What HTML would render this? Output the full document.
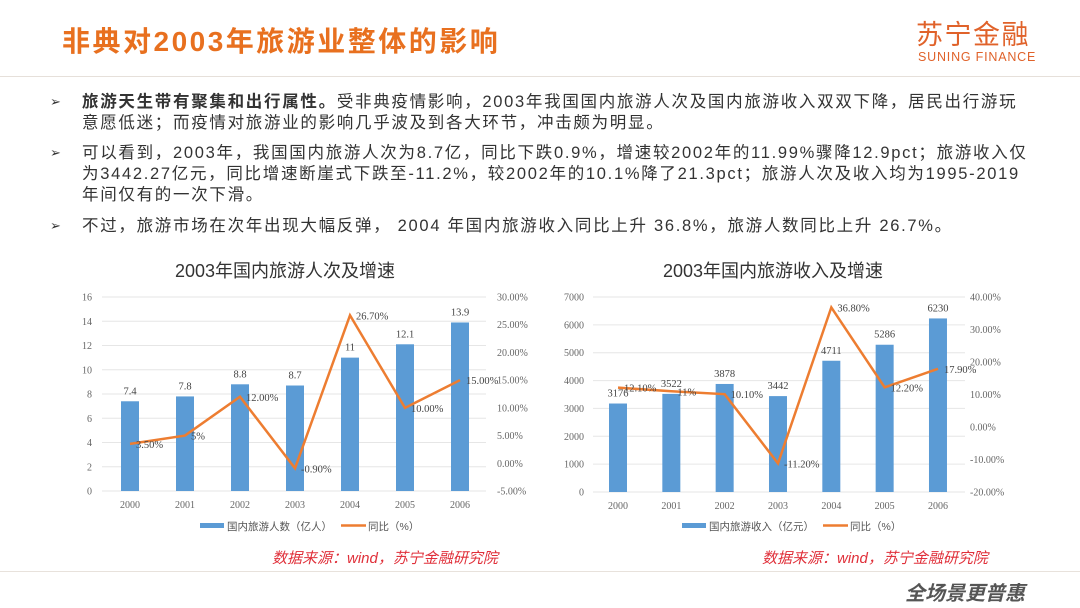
<!DOCTYPE html>
<html><head><meta charset="utf-8">
<style>
body{margin:0;width:1080px;height:608px;background:#fff;overflow:hidden;position:relative;font-family:"Liberation Sans","Noto Sans CJK SC",sans-serif;}
.title{position:absolute;left:62px;top:20px;font-size:28px;font-weight:bold;color:#e8701f;letter-spacing:2.5px;white-space:nowrap}
.hline{position:absolute;left:0;top:76px;width:1080px;height:1px;background:#e6e0da}
.logo1{position:absolute;left:916px;top:20px;font-size:27px;line-height:30px;color:#e0622a;letter-spacing:1.5px}
.logo2{position:absolute;left:918px;top:50px;font-size:12.5px;color:#e0622a;letter-spacing:0.8px}
.b{position:absolute;left:82px;font-size:16.5px;letter-spacing:1.7px;color:#333;white-space:nowrap;line-height:21px}
.ar{position:absolute;left:50px;font-size:13px;color:#333}
.src{position:absolute;top:547px;font-size:15px;color:#e0303a;font-style:italic}
.fline{position:absolute;left:0;top:571px;width:1080px;height:1px;background:#e8e2dc}
.foot{position:absolute;left:905px;top:577px;font-size:20px;font-weight:bold;font-style:italic;color:#555}
svg{position:absolute;left:0;top:0}
</style></head><body>
<div class="title">非典对2003年旅游业整体的影响</div>
<div class="hline"></div>
<div class="logo1">苏宁金融</div>
<div class="logo2">SUNING FINANCE</div>
<div class="ar" style="top:94px">➢</div>
<div class="b" style="top:92px"><b>旅游天生带有聚集和出行属性。</b>受非典疫情影响，2003年我国国内旅游人次及国内旅游收入双双下降，居民出行游玩<br>意愿低迷；而疫情对旅游业的影响几乎波及到各大环节，冲击颇为明显。</div>
<div class="ar" style="top:145px">➢</div>
<div class="b" style="top:143px">可以看到，2003年，我国国内旅游人次为8.7亿，同比下跌0.9%，增速较2002年的11.99%骤降12.9pct；旅游收入仅<br>为3442.27亿元，同比增速断崖式下跌至-11.2%，较2002年的10.1%降了21.3pct；旅游人次及收入均为1995-2019<br>年间仅有的一次下滑。</div>
<div class="ar" style="top:218px">➢</div>
<div class="b" style="top:216px">不过，旅游市场在次年出现大幅反弹， 2004 年国内旅游收入同比上升 36.8%，旅游人数同比上升 26.7%。</div>
<svg id="s" width="1080" height="608" font-family="Liberation Serif, Noto Serif CJK SC, serif"></svg>
<div class="src" style="left:272px">数据来源：wind，苏宁金融研究院</div>
<div class="src" style="left:762px">数据来源：wind，苏宁金融研究院</div>
<div class="fline"></div>
<div class="foot">全场景更普惠</div>
<script>
var s='';
function chart(t){
 s+='<text x="'+t.cx+'" y="277" font-size="18" fill="#333" text-anchor="middle" font-family="Liberation Sans, Noto Sans CJK SC, sans-serif">'+t.title+'</text>';
 for(var i=0;i<t.lt.length;i++){var y=t.y0-(t.y0-t.ytop)*i/(t.lt.length-1);
  s+='<line x1="'+t.gx1+'" x2="'+t.gx2+'" y1="'+y+'" y2="'+y+'" stroke="#e6e6e6"/>';
  s+='<text x="'+t.lx+'" y="'+(y+3.5)+'" font-size="10" fill="#666" text-anchor="end">'+t.lt[i]+'</text>';}
 for(var i=0;i<t.rt.length;i++){var y=t.y0-(t.y0-t.ytop)*i/(t.rt.length-1);
  s+='<text x="'+t.rx+'" y="'+(y+3.5)+'" font-size="10" fill="#666">'+t.rt[i]+'</text>';}
 var pts=[];
 for(var i=0;i<7;i++){var x=t.x0+t.dx*i;var h=t.v[i]*t.sv;
  s+='<rect x="'+(x-9)+'" y="'+(t.y0-h)+'" width="18" height="'+h+'" fill="#5b9bd5"/>';
  s+='<text x="'+x+'" y="'+(t.y0-h-7)+'" font-size="10.5" fill="#444" text-anchor="middle">'+t.v[i]+'</text>';
  s+='<text x="'+x+'" y="'+(t.y0+17)+'" font-size="10" fill="#666" text-anchor="middle">'+(2000+i)+'</text>';
  var py=t.y0-(t.p[i]-t.pmin)*t.sp;pts.push(x+','+py);}
 s+='<polyline points="'+pts.join(' ')+'" fill="none" stroke="#ed7d31" stroke-width="2.5"/>';
 for(var i=0;i<7;i++){var xy=pts[i].split(',');
  s+='<text x="'+(+xy[0]+6)+'" y="'+(+xy[1]+4)+'" font-size="10.5" fill="#444">'+t.pl[i]+'</text>';}
 s+='<rect x="'+t.lgx+'" y="523" width="24" height="5" fill="#5b9bd5"/>';
 s+='<text x="'+(t.lgx+27)+'" y="530" font-size="10.5" fill="#555" font-family="Liberation Sans, Noto Sans CJK SC, sans-serif">'+t.l1+'</text>';
 s+='<line x1="'+(t.lgx+141)+'" x2="'+(t.lgx+166)+'" y1="525.5" y2="525.5" stroke="#ed7d31" stroke-width="2.5"/>';
 s+='<text x="'+(t.lgx+168)+'" y="530" font-size="10.5" fill="#555" font-family="Liberation Sans, Noto Sans CJK SC, sans-serif">同比（%）</text>';
}
chart({title:'2003年国内旅游人次及增速',cx:285,y0:491,ytop:297,gx1:102,gx2:486,lx:92,rx:497,
 lt:[0,2,4,6,8,10,12,14,16],rt:['-5.00%','0.00%','5.00%','10.00%','15.00%','20.00%','25.00%','30.00%'],
 x0:130,dx:55,v:[7.4,7.8,8.8,8.7,11,12.1,13.9],sv:12.125,p:[3.5,5,12,-0.9,26.7,10,15],pmin:-5,sp:5.543,
 pl:['3.50%','5%','12.00%','-0.90%','26.70%','10.00%','15.00%'],lgx:200,l1:'国内旅游人数（亿人）'});
chart({title:'2003年国内旅游收入及增速',cx:773,y0:492,ytop:297,gx1:593,gx2:965,lx:584,rx:970,
 lt:[0,1000,2000,3000,4000,5000,6000,7000],rt:['-20.00%','-10.00%','0.00%','10.00%','20.00%','30.00%','40.00%'],
 x0:618,dx:53.33,v:[3176,3522,3878,3442,4711,5286,6230],sv:0.02786,p:[12.1,11,10.1,-11.2,36.8,12.2,17.9],pmin:-20,sp:3.25,
 pl:['12.10%','11%','10.10%','-11.20%','36.80%','12.20%','17.90%'],lgx:682,l1:'国内旅游收入（亿元）'});
document.getElementById('s').innerHTML=s;
</script>
</body></html>
